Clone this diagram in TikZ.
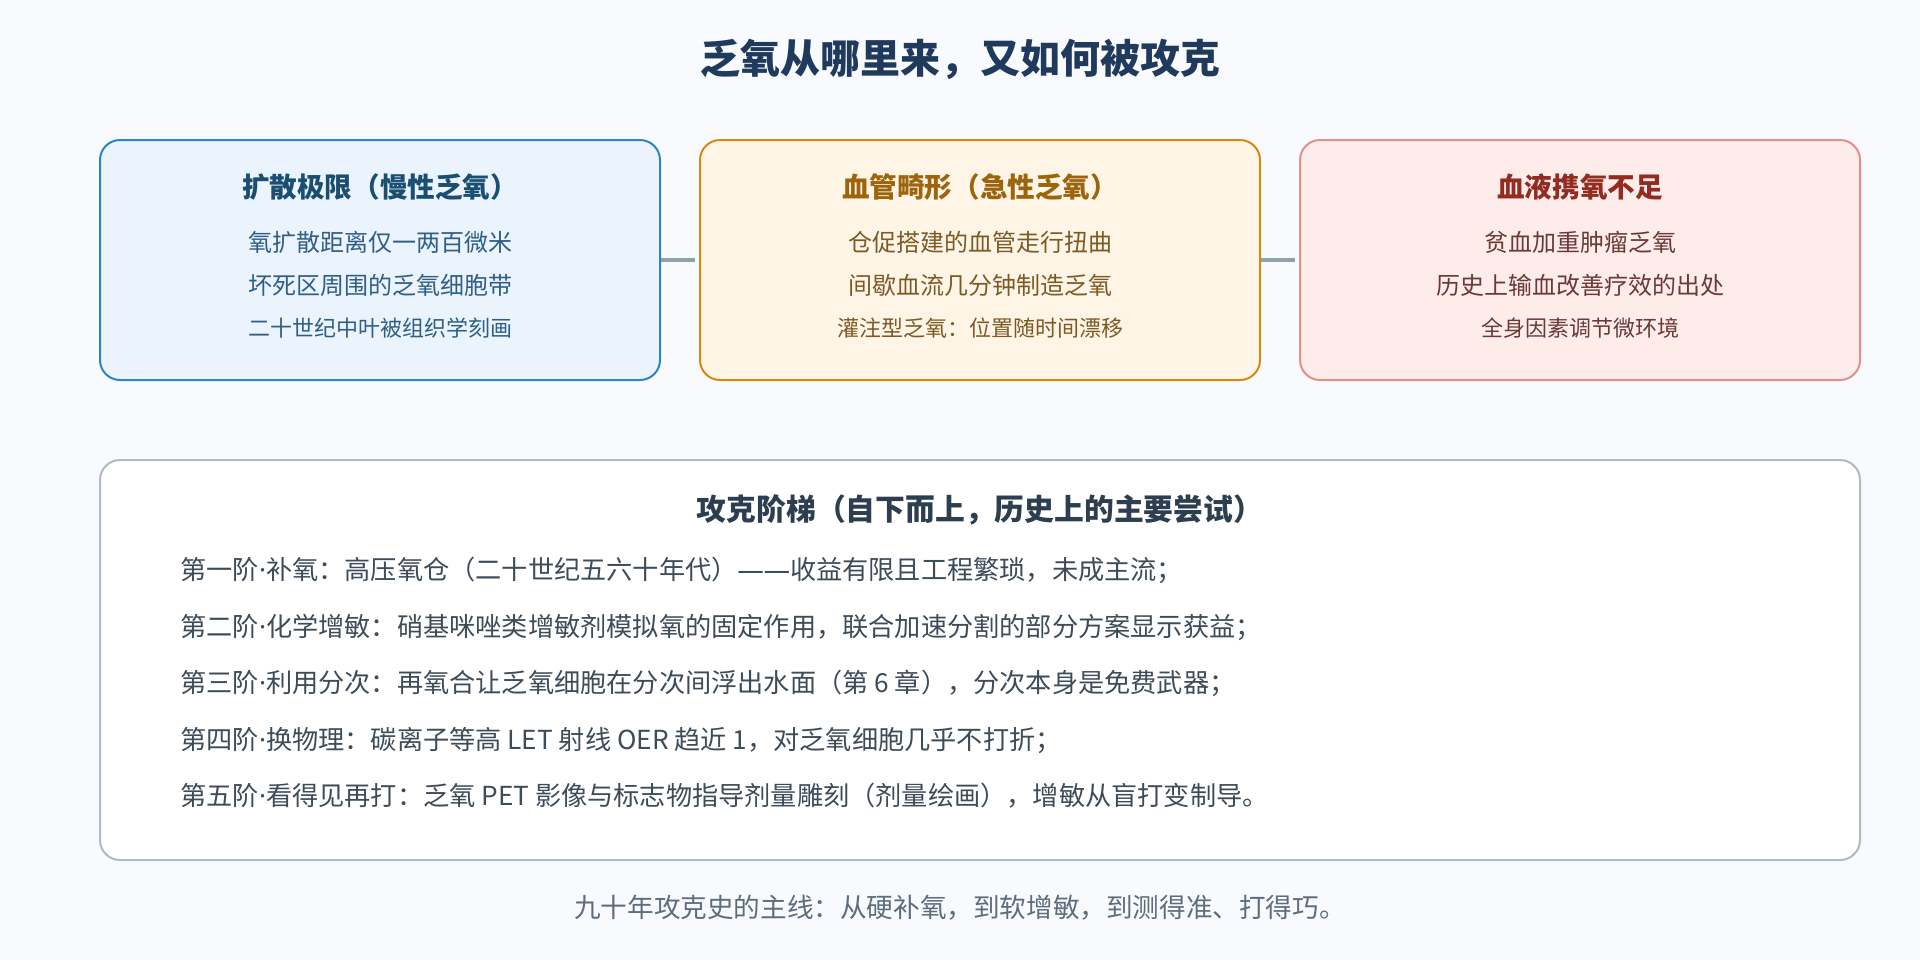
\documentclass[tikz,border=0pt]{standalone}
\usepackage{fontspec}
\setmainfont{Noto Sans CJK SC}
\newfontfamily\latinfont{Noto Sans}
\definecolor{pagebg}{HTML}{F8FAFD}
\definecolor{titleink}{HTML}{1F3A5C}
\definecolor{diffFill}{HTML}{EBF3FC}
\definecolor{diffLine}{HTML}{2E86C1}
\definecolor{diffHead}{HTML}{1B4F72}
\definecolor{diffText}{HTML}{2F5F86}
\definecolor{vascFill}{HTML}{FEF5E7}
\definecolor{vascLine}{HTML}{D68910}
\definecolor{vascHead}{HTML}{9C640C}
\definecolor{vascText}{HTML}{7D5A24}
\definecolor{bloodFill}{HTML}{FDECEA}
\definecolor{bloodLine}{HTML}{E0918B}
\definecolor{bloodHead}{HTML}{922B21}
\definecolor{bloodText}{HTML}{6B3A36}
\definecolor{linkgray}{HTML}{8FA3AD}
\definecolor{ladderLine}{HTML}{B0BAC3}
\definecolor{ladderHead}{HTML}{2C3E50}
\definecolor{ladderText}{HTML}{3E4C59}
\definecolor{footink}{HTML}{5D6D7E}
\usetikzlibrary{positioning}
\newcommand{\mdot}{{\latinfont ·}}
\newcommand{\longdash}{{\latinfont ——}}

\begin{document}
\begin{tikzpicture}[x=0.5pt,y=-0.5pt]

	\def \toprow{260}
	\tikzstyle{cause}=[rectangle,rounded corners=10pt,line width=1pt,minimum width=280pt,minimum height=120pt]
	\tikzstyle{head}=[inner sep=0pt,font=\bfseries\fontsize{13.8}{16}\selectfont]
	\tikzstyle{bodytext}=[inner sep=0pt,font=\fontsize{12}{14}\selectfont]
	\tikzstyle{smalltext}=[inner sep=0pt,font=\fontsize{11}{13}\selectfont]
	\tikzstyle{rung}=[anchor=west,inner sep=0pt,text=ladderText,font=\fontsize{13.1}{15}\selectfont]
	\tikzstyle{link}=[draw=linkgray,line width=2pt,shorten >=2pt]

	% page
	\useasboundingbox[fill=pagebg] (0,0) rectangle (1920,960);
	\node[inner sep=0pt,text=titleink,font=\bfseries\fontsize{20}{24}\selectfont] (title) at (960,59) {乏氧从哪里来，又如何被攻克};

	% three causes
	\node[cause,fill=diffFill,draw=diffLine] 	(diff)	at (380,\toprow)	{};
	\node[cause,fill=vascFill,draw=vascLine] 	(vasc)	at (980,\toprow)	{};
	\node[cause,fill=bloodFill,draw=bloodLine] 	(blood)	at (1580,\toprow)	{};
	\draw[link] (diff.east) -- (vasc.west);
	\draw[link] (vasc.east) -- (blood.west);

	\node[head,text=diffHead] 	(diffhead)	at (380,187)	{扩散极限（慢性乏氧）};
	\node[bodytext,text=diffText] 	(diff1)	at (380,242)	{氧扩散距离仅一两百微米};
	\node[bodytext,text=diffText] 	(diff2)	at (380,285)	{坏死区周围的乏氧细胞带};
	\node[smalltext,text=diffText] 	(diff3)	at (380,328)	{二十世纪中叶被组织学刻画};

	\node[head,text=vascHead] 	(vaschead)	at (980,187)	{血管畸形（急性乏氧）};
	\node[bodytext,text=vascText] 	(vasc1)	at (980,242)	{仓促搭建的血管走行扭曲};
	\node[bodytext,text=vascText] 	(vasc2)	at (980,285)	{间歇血流几分钟制造乏氧};
	\node[smalltext,text=vascText] 	(vasc3)	at (980,328)	{灌注型乏氧：位置随时间漂移};

	\node[head,text=bloodHead] 	(bloodhead)	at (1580,187)	{血液携氧不足};
	\node[bodytext,text=bloodText] 	(blood1)	at (1580,242)	{贫血加重肿瘤乏氧};
	\node[bodytext,text=bloodText] 	(blood2)	at (1580,285)	{历史上输血改善疗效的出处};
	\node[smalltext,text=bloodText] 	(blood3)	at (1580,328)	{全身因素调节微环境};

	% ladder
	\node[rectangle,rounded corners=10pt,line width=1pt,fill=white,draw=ladderLine,minimum width=880pt,minimum height=200pt] (ladder) at (980,660) {};
	\node[inner sep=0pt,text=ladderHead,font=\bfseries\fontsize{14.9}{17}\selectfont] (ladderhead) at (980,510) {攻克阶梯（自下而上，历史上的主要尝试）};
	\node[rung] 	(rung1)	at (180,570)	{第一阶\mdot 补氧：高压氧仓（二十世纪五六十年代）\longdash 收益有限且工程繁琐，未成主流；};
	\node[rung] 	(rung2)	at (180,627)	{第二阶\mdot 化学增敏：硝基咪唑类增敏剂模拟氧的固定作用，联合加速分割的部分方案显示获益；};
	\node[rung] 	(rung3)	at (180,683)	{第三阶\mdot 利用分次：再氧合让乏氧细胞在分次间浮出水面（第 6 章），分次本身是免费武器；};
	\node[rung] 	(rung4)	at (180,740)	{第四阶\mdot 换物理：碳离子等高 LET 射线 OER 趋近 1，对乏氧细胞几乎不打折；};
	\node[rung] 	(rung5)	at (180,796)	{第五阶\mdot 看得见再打：乏氧 PET 影像与标志物指导剂量雕刻（剂量绘画），增敏从盲打变制导。};

	% footer
	\node[inner sep=0pt,text=footink,font=\fontsize{13.3}{16}\selectfont] (footer) at (960,908) {九十年攻克史的主线：从硬补氧，到软增敏，到测得准、打得巧。};
\end{tikzpicture}
\end{document}
